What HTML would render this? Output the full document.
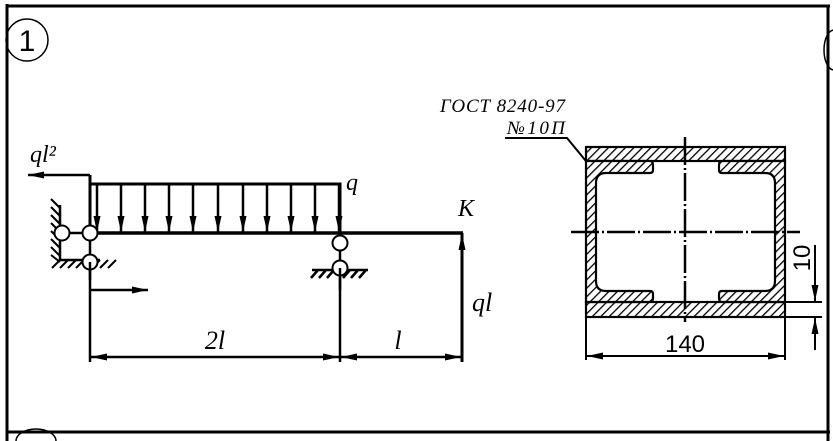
<!DOCTYPE html>
<html><head><meta charset="utf-8"><style>
html,body{margin:0;padding:0;background:#fff;}
svg{display:block;}
.it{font-family:"Liberation Serif",serif;font-style:italic;}
.sn{font-family:"Liberation Sans",sans-serif;}
</style></head><body>
<svg width="833" height="441" viewBox="0 0 833 441" xmlns="http://www.w3.org/2000/svg">
<defs>
<pattern id="h" width="6" height="6" patternUnits="userSpaceOnUse" patternTransform="rotate(45)">
<rect width="6" height="6" fill="#fff"/><line x1="0" y1="0" x2="0" y2="6" stroke="#000" stroke-width="2.6"/>
</pattern>
<marker id="a" markerWidth="16" markerHeight="9" refX="16" refY="4.5" orient="auto" markerUnits="userSpaceOnUse">
<path d="M0,1 L16,4.5 L0,8 Z" fill="#000"/></marker>
</defs>
<g stroke="#000" stroke-width="3" fill="none">
<line x1="7" y1="6" x2="830" y2="6"/>
<line x1="7" y1="4" x2="7" y2="441"/>
<line x1="828" y1="6" x2="828" y2="441"/>
<line x1="7" y1="432" x2="830" y2="432"/>
</g>
<circle cx="27" cy="40" r="21" fill="none" stroke="#000" stroke-width="1.5"/>
<text x="27" y="51" class="sn" font-size="30" text-anchor="middle">1</text>
<path d="M834,30 a10,20 0 0 0 0,40" fill="none" stroke="#000" stroke-width="1.5"/>
<path d="M16,441 a20,12 0 0 1 40,0" fill="none" stroke="#000" stroke-width="1.5"/>

<line x1="90" y1="233" x2="463" y2="233" stroke="#000" stroke-width="3.5"/>
<g stroke="#000" stroke-width="3" fill="none">
<polyline points="90,175 90,184 340,184 340,232"/>
<line x1="90" y1="175" x2="90" y2="230"/>
</g>
<g stroke="#000" stroke-width="2.5" marker-end="url(#a)">
<line x1="97" y1="184" x2="97" y2="232"/><line x1="121" y1="184" x2="121" y2="232"/>
<line x1="145" y1="184" x2="145" y2="232"/><line x1="169" y1="184" x2="169" y2="232"/>
<line x1="193" y1="184" x2="193" y2="232"/><line x1="218" y1="184" x2="218" y2="232"/>
<line x1="243" y1="184" x2="243" y2="232"/><line x1="267" y1="184" x2="267" y2="232"/>
<line x1="291" y1="184" x2="291" y2="232"/><line x1="315" y1="184" x2="315" y2="232"/>
<line x1="339" y1="184" x2="339" y2="232"/>
<line x1="90" y1="175" x2="28" y2="175"/>
<line x1="90" y1="290" x2="148" y2="290"/>
<line x1="462" y1="310" x2="462" y2="234"/>
</g>
<text x="30" y="162" class="it" font-size="24">ql²</text>
<text x="346" y="190" class="it" font-size="24">q</text>
<text x="458" y="216" class="it" font-size="24">K</text>
<text x="472" y="311" class="it" font-size="26">ql</text>
<g stroke="#000" stroke-width="2.5" fill="none">
<polyline points="60,205 60,260 100,260"/>
<line x1="62" y1="233" x2="90" y2="233"/>
<line x1="90" y1="233" x2="90" y2="262"/>
<line x1="90" y1="262" x2="90" y2="362"/>
<g stroke-width="2">
<line x1="60" y1="208" x2="51" y2="199"/><line x1="60" y1="216" x2="51" y2="207"/>
<line x1="60" y1="224" x2="51" y2="215"/><line x1="60" y1="232" x2="51" y2="223"/>
<line x1="60" y1="240" x2="51" y2="231"/><line x1="60" y1="248" x2="51" y2="239"/>
<line x1="60" y1="256" x2="51" y2="247"/><line x1="60" y1="262" x2="51" y2="255"/>
<line x1="60" y1="260" x2="52" y2="268"/><line x1="68" y1="260" x2="60" y2="268"/>
<line x1="76" y1="260" x2="68" y2="268"/><line x1="84" y1="260" x2="76" y2="268"/>
<line x1="92" y1="260" x2="84" y2="268"/><line x1="100" y1="260" x2="92" y2="268"/>
<line x1="108" y1="260" x2="100" y2="268"/><line x1="116" y1="260" x2="108" y2="268"/>
</g>
</g>
<g stroke="#000" stroke-width="2" fill="#fff">
<circle cx="62" cy="233" r="7.5"/><circle cx="90" cy="233" r="7.5"/><circle cx="90" cy="262" r="7.5"/>
</g>
<line x1="90" y1="262" x2="90" y2="280" stroke="#000" stroke-width="2.5"/>
<g stroke="#000" stroke-width="2.5" fill="none">
<line x1="340" y1="243" x2="340" y2="268"/>
<line x1="312" y1="270" x2="368" y2="270"/>
<line x1="340" y1="268" x2="340" y2="362"/>
<line x1="318" y1="270" x2="311" y2="278"/><line x1="326" y1="270" x2="319" y2="278"/>
<line x1="334" y1="270" x2="327" y2="278"/><line x1="350" y1="270" x2="343" y2="278"/>
<line x1="358" y1="270" x2="351" y2="278"/><line x1="366" y1="270" x2="359" y2="278"/>
</g>
<g stroke="#000" stroke-width="2" fill="#fff">
<circle cx="340" cy="243" r="7.5"/><circle cx="340" cy="268" r="7.5"/>
</g>
<line x1="340" y1="268" x2="340" y2="290" stroke="#000" stroke-width="2.5"/>
<line x1="462" y1="233" x2="462" y2="362" stroke="#000" stroke-width="3"/>
<g stroke="#000" stroke-width="2.5">
<line x1="215" y1="357" x2="91" y2="357" marker-end="url(#a)"/>
<line x1="215" y1="357" x2="339" y2="357" marker-end="url(#a)"/>
<line x1="400" y1="357" x2="341" y2="357" marker-end="url(#a)"/>
<line x1="400" y1="357" x2="461" y2="357" marker-end="url(#a)"/>
</g>
<text x="215" y="349" class="it" font-size="26" text-anchor="middle">2l</text>
<text x="398" y="349" class="it" font-size="26" text-anchor="middle">l</text>

<text x="440" y="112" class="it" font-size="19" textLength="125">ГОСТ 8240-97</text>
<text x="507" y="134" class="it" font-size="19" textLength="58">№10П</text>
<polyline points="505,138 567,138 590,166" fill="none" stroke="#000" stroke-width="2"/>

<g stroke="#000" stroke-width="2.2" fill="url(#h)">
<rect x="586" y="147" width="199" height="14"/>
<rect x="586" y="302" width="199" height="15"/>
<path d="M586,161 H650 q3,0 3,4 V170 q0,3 -3,3 H606 q-10,0 -10,10 V281 q0,10 10,10 H650 q3,0 3,3 V298 q0,4 -3,4 H586 Z"/>
<path d="M785,161 H722 q-3,0 -3,4 V170 q0,3 3,3 H765 q10,0 10,10 V281 q0,10 -10,10 H722 q-3,0 -3,3 V298 q0,4 3,4 H785 Z"/>
</g>
<g stroke="#000" stroke-width="2.5" stroke-dasharray="28,3,2,3">
<line x1="685" y1="137" x2="685" y2="322"/>
<line x1="571" y1="232" x2="800" y2="232"/>
</g>
<g stroke="#000" stroke-width="2">
<line x1="586" y1="317" x2="586" y2="360"/>
<line x1="785" y1="317" x2="785" y2="360"/>
<line x1="685" y1="356" x2="587" y2="356" marker-end="url(#a)"/>
<line x1="685" y1="356" x2="784" y2="356" marker-end="url(#a)"/>
<line x1="785" y1="302" x2="822" y2="302"/>
<line x1="785" y1="317" x2="822" y2="317"/>
<line x1="815" y1="245" x2="815" y2="301" marker-end="url(#a)"/>
<line x1="815" y1="350" x2="815" y2="318" marker-end="url(#a)"/>
</g>
<text x="685" y="352" class="sn" font-size="24" text-anchor="middle">140</text>
<text transform="translate(810,258) rotate(-90)" class="sn" font-size="24" text-anchor="middle">10</text>
</svg>
</body></html>
